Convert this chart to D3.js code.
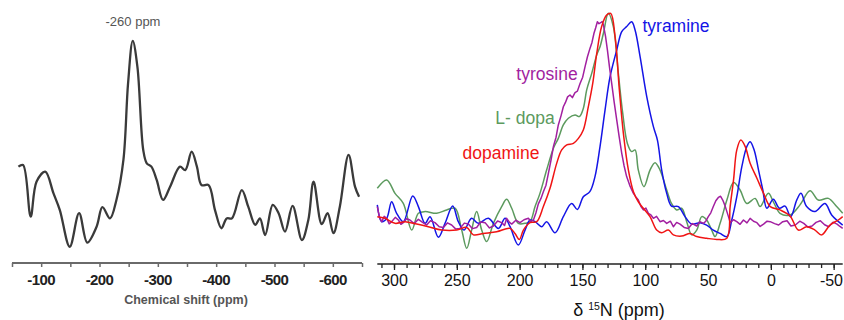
<!DOCTYPE html>
<html><head><meta charset="utf-8">
<script src="https://cdn.jsdelivr.net/npm/d3@7"></script>
<style>
html,body{margin:0;padding:0;background:#fff;}
svg{display:block;}
</style></head>
<body>
<svg id="c" width="844" height="320"></svg>
<script>
// ---------- DATA ----------
// Left panel: [chemical shift (ppm), intensity]
const leftSpectrum = [
 [-61,35.9],[-69,36.5],[-82,16.7],[-92,30.1],[-107,34.0],[-121,25.7],[-132,19.2],[-149,5.1],
 [-165,18.0],[-179,6.7],[-195,12.8],[-205,20.3],[-218,16.0],[-229,23.1],[-241,38.5],[-249,68.0],
 [-257,84.3],[-265,74.3],[-275,42.3],[-281,37.2],[-289,35.9],[-298,30.8],[-309,23.1],[-321,28.2],
 [-338,35.9],[-347,34.6],[-358,41.7],[-367,35.9],[-375,28.8],[-387,28.8],[-398,19.2],[-409,12.2],
 [-418,16.0],[-427,16.0],[-444,26.9],[-455,20.5],[-467,13.5],[-475,16.0],[-484,9.6],[-497,21.2],
 [-507,18.0],[-518,10.9],[-531,20.8],[-547,7.7],[-558,15.4],[-567,30.1],[-581,13.8],[-591,18.0],
 [-601,10.3],[-612,20.5],[-627,40.4],[-638,28.2],[-645,24.3]
];
const leftTicks = [-100,-200,-300,-400,-500,-600];
const leftMinorTicks = [-50,-150,-250,-350,-450,-550,-650];
const leftPeakLabel = "-260 ppm";
const leftAxisTitle = "Chemical shift (ppm)";

// Right panel: [δ 15N (ppm), normalized intensity]
const lDopa = [
 [313.3,25.7],[305.8,29.2],[299.2,23.6],[292.6,19.4],[285.9,8.3],[280.6,15.3],[275.3,16.0],[266.0,15.3],
 [258.1,16.7],[251.4,17.4],[246.1,8.3],[242.1,0.7],[238.2,8.3],[234.2,16.0],[230.2,8.3],[226.2,3.5],
 [220.9,11.1],[214.3,18.1],[210.3,21.1],[206.3,17.4],[201.0,11.1],[195.7,11.1],[191.7,11.8],[187.7,18.1],
 [183.8,23.6],[178.5,33.3],[173.1,42.4],[169.2,46.5],[165.2,52.1],[161.2,54.9],[155.9,56.3],[152.4,55.6],
 [149.3,59.0],[146.6,66.7],[142.6,73.6],[138.6,81.3],[136.0,84.7],[133.3,90.3],[129.4,98.6],[125.4,93.1],
 [121.4,73.6],[117.9,56.9],[114.2,44.4],[110.8,41.0],[108.1,41.7],[105.5,33.3],[101.0,26.4],[96.2,33.3],
 [92.2,36.4],[88.2,33.3],[82.9,25.0],[79.1,19.4],[75.0,16.7],[71.0,17.4],[67.0,11.8],[63.0,6.3],
 [59.0,8.3],[55.0,13.9],[51.1,12.5],[47.1,8.3],[44.4,5.6],[40.4,11.1],[35.0,20.8],[29.7,28.1],
 [24.5,25.0],[19.1,19.4],[12.5,21.5],[8.6,18.1],[2.0,23.6],[-2.0,20.1],[-7.3,15.3],[-15.3,14.6],
 [-23.2,18.8],[-31.2,24.7],[-37.8,20.8],[-45.8,21.5],[-52.4,18.1],[-57.2,15.3]
];
const tyramine = [
 [313.3,18.8],[309.8,11.8],[305.8,13.2],[301.9,20.1],[297.9,15.3],[292.6,11.8],[285.1,22.5],[280.6,18.1],
 [275.3,11.1],[271.3,13.9],[264.7,5.3],[259.4,11.1],[253.3,18.3],[248.8,11.8],[244.3,8.3],[238.2,13.2],
 [232.9,11.1],[224.9,13.2],[216.9,9.0],[211.6,13.2],[207.6,9.7],[201.0,2.1],[195.7,8.3],[191.7,12.5],
 [187.7,11.8],[182.4,9.7],[178.5,11.8],[171.8,7.2],[165.2,13.9],[158.6,19.4],[154.0,16.9],[149.3,22.2],
 [144.1,24.3],[140.0,30.6],[136.0,43.1],[132.0,58.3],[128.0,72.2],[122.7,83.3],[118.7,91.0],[114.8,93.1],
 [110.8,95.1],[108.1,91.7],[104.1,80.6],[98.8,63.9],[93.5,51.4],[90.3,45.8],[86.9,33.3],[82.9,23.6],
 [79.1,18.3],[73.6,18.1],[68.3,13.9],[63.0,10.8],[56.4,11.4],[51.1,10.4],[45.8,8.3],[40.4,6.9],
 [35.0,5.6],[31.1,12.5],[27.1,22.2],[23.1,34.7],[19.1,43.1],[16.5,45.1],[13.3,41.7],[9.8,33.3],
 [6.4,25.0],[3.2,17.4],[-2.0,21.1],[-6.8,17.4],[-11.3,18.3],[-15.8,13.9],[-20.6,20.8],[-24.0,23.6],
 [-28.5,18.1],[-35.1,16.0],[-43.1,19.4],[-48.4,14.6],[-57.2,10.4]
];
const dopamine = [
 [313.3,13.9],[307.2,13.2],[299.2,11.1],[291.2,11.8],[281.9,10.8],[272.7,9.7],[262.0,8.3],[250.1,8.3],
 [242.1,9.4],[236.8,6.3],[228.9,6.9],[218.3,7.6],[207.6,9.0],[203.7,6.9],[200.2,4.4],[197.0,8.3],
 [191.7,11.4],[186.4,11.8],[181.1,18.1],[175.8,25.7],[170.5,36.1],[166.5,41.7],[162.5,43.8],[157.2,44.4],
 [153.2,46.5],[149.3,50.0],[145.3,59.7],[141.8,69.4],[138.6,81.9],[134.7,93.1],[130.7,97.9],[127.5,98.6],
 [124.0,88.9],[120.6,66.7],[117.4,48.6],[113.4,33.3],[109.4,24.3],[105.5,20.1],[101.5,17.4],[96.2,13.9],
 [90.9,8.3],[86.9,7.2],[81.6,8.3],[77.6,6.3],[71.0,5.8],[64.3,6.9],[59.0,5.6],[51.1,4.9],
 [43.1,4.4],[35.0,4.9],[32.4,18.1],[29.7,29.2],[27.1,41.7],[23.9,45.8],[20.4,43.1],[16.5,36.1],
 [11.1,29.9],[5.8,23.6],[0.5,18.1],[-7.3,16.7],[-15.3,14.2],[-21.9,8.3],[-28.5,9.7],[-35.1,8.3],
 [-40.4,6.3],[-47.1,10.4],[-53.7,12.5],[-57.2,13.9]
];
const tyrosine = [
 [313.3,18.1],[311.5,13.5],[309.8,11.8],[307.8,14.0],[305.8,13.2],[303.8,10.9],[301.9,11.8],[299.0,13.6],
 [296.5,12.5],[294.5,10.7],[292.6,11.4],[290.0,13.0],[287.3,12.5],[284.0,11.0],[280.6,12.8],[277.5,11.6],
 [274.0,10.4],[271.0,12.2],[267.4,11.4],[264.0,9.7],[260.7,9.4],[257.5,11.3],[254.1,10.4],[251.0,8.8],
 [247.5,9.0],[244.0,11.2],[240.8,10.8],[237.5,8.9],[234.2,9.4],[231.0,11.7],[227.5,11.4],[224.0,9.2],
 [220.9,10.0],[217.5,12.1],[214.3,11.4],[212.0,10.2],[210.3,13.2],[208.0,11.5],[206.3,10.8],[203.0,12.4],
 [199.7,11.4],[196.5,12.6],[193.0,13.2],[191.0,11.8],[189.0,12.5],[187.0,15.5],[185.1,19.2],[183.0,21.5],
 [181.1,24.3],[179.0,27.0],[177.1,31.9],[175.0,37.5],[173.1,43.1],[171.0,47.0],[169.2,52.1],[167.0,56.0],
 [165.2,59.7],[163.5,61.5],[161.8,63.8],[159.9,64.6],[158.0,63.5],[155.9,65.6],[154.0,66.2],[151.9,69.4],
 [149.8,72.0],[147.9,76.4],[146.0,80.5],[144.0,84.0],[142.4,86.5],[140.8,90.3],[139.5,92.5],[138.1,95.1],
 [136.8,94.3],[135.5,94.7],[134.3,95.2],[133.3,93.8],[131.6,89.0],[130.1,83.3],[128.4,76.0],[126.7,69.4],
 [124.7,61.5],[122.7,54.2],[120.7,47.0],[118.7,40.3],[116.8,35.0],[114.8,30.6],[112.0,26.5],[109.4,23.6],
 [107.3,22.0],[105.5,20.8],[103.5,18.2],[101.5,16.7],[99.5,17.5],[97.5,15.3],[95.5,14.6],[93.5,13.2],
 [91.0,14.0],[88.2,11.8],[85.5,12.3],[82.9,11.1],[80.0,12.0],[77.6,9.7],[75.0,11.5],[72.3,10.8],
 [69.0,9.4],[65.7,9.0],[62.5,11.0],[59.0,10.0],[56.5,11.8],[53.7,11.1],[51.8,12.0],[49.8,13.9],
 [47.8,15.5],[45.8,18.1],[43.8,20.5],[41.8,21.9],[40.0,22.4],[38.3,20.8],[36.5,18.5],[35.0,16.0],
 [33.5,13.5],[32.4,11.4],[29.7,12.6],[27.1,11.8],[24.5,10.7],[21.8,12.5],[19.0,11.3],[16.5,13.2],
 [13.8,12.0],[11.1,11.4],[8.5,9.8],[5.8,10.8],[3.0,12.0],[0.5,11.8],[-3.0,11.0],[-6.2,10.4],
 [-9.5,11.8],[-12.9,12.2],[-16.0,10.0],[-19.5,10.4],[-23.0,12.0],[-26.2,11.1],[-29.5,9.6],[-32.8,10.0],
 [-36.0,11.5],[-39.4,12.2],[-42.8,10.5],[-46.1,9.7],[-49.5,11.6],[-52.7,10.8],[-55.0,9.8],[-57.2,9.0]
];
const rightMajorTicks = [300,250,200,150,100,50,0,-50];
const rightMinorTicks = d3.range(310,-60,-10);
const seriesNames = ["tyramine","tyrosine","L- dopa","dopamine"];
const seriesColors = ["#1414e6","#a21fa0","#5c9a5e","#f01414"];

// ---------- DRAW ----------
const svg = d3.select("#c");
const FONT = "Liberation Sans, Arial, Helvetica, sans-serif";

// Left panel
const xL = d3.scaleLinear().domain([-50,-650]).range([12,362]);
const yL = d3.scaleLinear().domain([0,100]).range([260,0]);
const gL = svg.append("g");

gL.append("line").attr("x1",12).attr("x2",362).attr("y1",263).attr("y2",263)
  .attr("stroke","#6a6a6a").attr("stroke-width",2.2);
const axL = d3.axisBottom(xL).tickValues(leftTicks.concat(leftMinorTicks)).tickSize(4).tickFormat("");
const gAxL = gL.append("g").attr("transform","translate(0,263)").call(axL);
gAxL.select(".domain").remove();
gAxL.selectAll(".tick line").attr("stroke","#6a6a6a").attr("stroke-width",1.5);
gL.selectAll("text.lt").data(leftTicks).join("text").attr("class","lt")
  .attr("x",d=>xL(d)).attr("y",285).attr("text-anchor","middle")
  .attr("font-family",FONT).attr("font-weight","bold")
  .attr("font-size",15).attr("letter-spacing",-0.6).attr("fill","#222")
  .text(d=>d);
gL.append("text").attr("x",186).attr("y",304).attr("text-anchor","middle")
  .attr("font-family",FONT).attr("font-weight","bold")
  .attr("font-size",12.5).attr("fill","#555").text(leftAxisTitle);
gL.append("text").attr("x",133).attr("y",26).attr("text-anchor","middle")
  .attr("font-family",FONT)
  .attr("font-size",13).attr("fill","#555").text(leftPeakLabel);
gL.append("path").datum(leftSpectrum)
  .attr("d",d3.line().x(d=>xL(d[0])).y(d=>yL(d[1])).curve(d3.curveCatmullRom.alpha(0.5)))
  .attr("fill","none").attr("stroke","#3a3a3a").attr("stroke-width",2.3);

// Right panel
const xR = d3.scaleLinear().domain([313.3,-57.2]).range([377.3,842.7]);
const yR = d3.scaleLinear().domain([0,100]).range([250,10]);
const gR = svg.append("g");

const axMinor = d3.axisBottom(xR).tickValues(rightMinorTicks).tickSize(4).tickFormat("");
const gm = gR.append("g").attr("transform","translate(0,264)").call(axMinor);
gm.select(".domain").attr("d",`M377.3,0H842.7`).attr("stroke","#222").attr("stroke-width",1.5);
gm.selectAll(".tick line").attr("stroke","#222").attr("stroke-width",1.3);
const axMajor = d3.axisBottom(xR).tickValues(rightMajorTicks).tickSize(6).tickPadding(5)
  .tickFormat(d=>d);
const gM = gR.append("g").attr("transform","translate(0,264)").call(axMajor);
gM.select(".domain").remove();
gM.selectAll(".tick line").attr("stroke","#222").attr("stroke-width",1.3);
gM.selectAll(".tick text").attr("font-family",FONT)
  .attr("font-size",16).attr("fill","#111")
  .attr("text-anchor",d=>d<0?"end":"middle")
  .attr("x",d=>d<0?(842.5-xR(d)):0);

const title = gR.append("text").attr("x",619).attr("y",316).attr("text-anchor","middle")
  .attr("font-family",FONT).attr("font-size",18).attr("fill","#111");
title.append("tspan").text("δ ");
title.append("tspan").attr("font-size",10.5).attr("dy",-6.5).text("15");
title.append("tspan").attr("dy",6.5).text("N (ppm)");

const lineR = d3.line().x(d=>xR(d[0])).y(d=>yR(d[1]));
const series = [
  {data:lDopa, color:seriesColors[2], curve:d3.curveCatmullRom.alpha(0.5)},
  {data:tyramine, color:seriesColors[0], curve:d3.curveCatmullRom.alpha(0.5)},
  {data:tyrosine, color:seriesColors[1], curve:d3.curveLinear},
  {data:dopamine, color:seriesColors[3], curve:d3.curveCatmullRom.alpha(0.5)}
];
series.forEach(s=>{
  gR.append("path").datum(s.data).attr("d",lineR.curve(s.curve)(s.data))
    .attr("fill","none").attr("stroke",s.color).attr("stroke-width",1.5)
    .attr("stroke-linejoin","round");
});

const labelPos = [[676,26],[547,74],[525,118],[501,153]];
gR.selectAll("text.lab").data(seriesNames).join("text").attr("class","lab")
  .attr("x",(d,i)=>labelPos[i][0]).attr("y",(d,i)=>labelPos[i][1]).attr("dy","0.35em")
  .attr("text-anchor","middle")
  .attr("font-family",FONT).attr("font-size",17.5)
  .attr("fill",(d,i)=>seriesColors[i]).text(d=>d);
</script>
</body></html>
